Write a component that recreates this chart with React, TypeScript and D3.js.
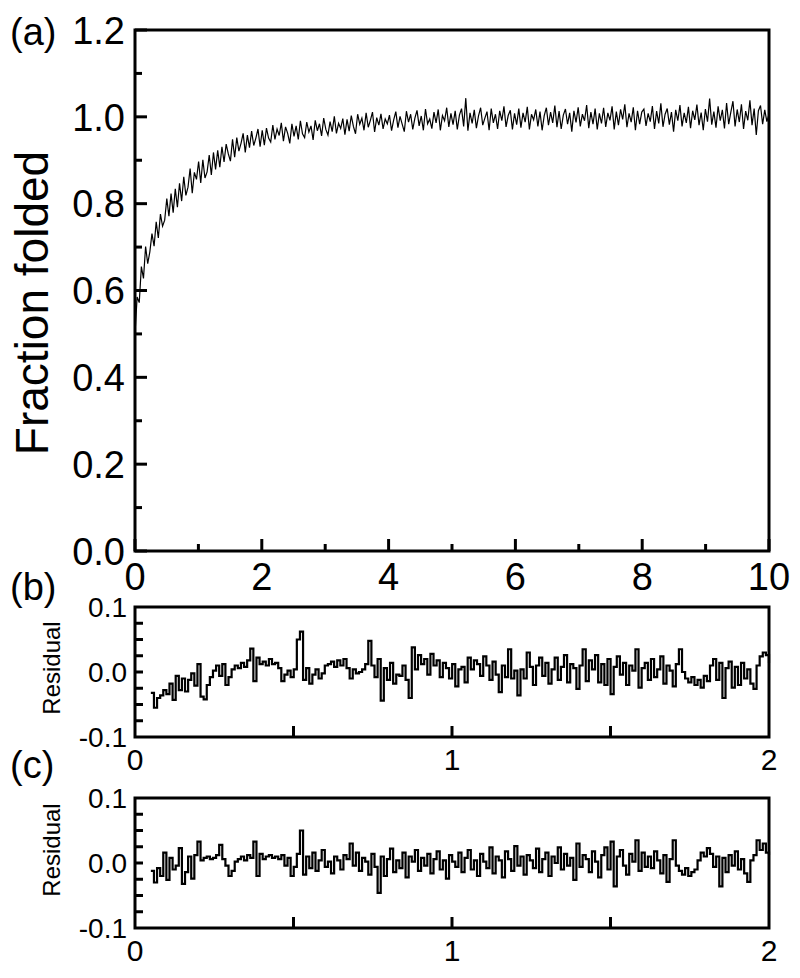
import React from 'react'
import * as d3 from 'd3'

// fraction folded trace, sampled evenly over 0..10
const foldedValues = [
  0.500,0.585,0.572,0.655,0.628,0.701,0.662,0.689,0.731,0.702,0.758,0.721,0.776,0.748,0.762,0.812,0.771,0.823,0.779,0.834,
  0.792,0.847,0.806,0.862,0.819,0.838,0.881,0.824,0.872,0.856,0.897,0.848,0.901,0.859,0.873,0.912,0.866,0.918,0.879,0.923,
  0.884,0.931,0.896,0.937,0.915,0.898,0.948,0.907,0.952,0.921,0.939,0.962,0.918,0.958,0.929,0.967,0.934,0.951,0.972,0.931,
  0.969,0.935,0.974,0.951,0.942,0.981,0.948,0.972,0.957,0.986,0.944,0.977,0.962,0.939,0.984,0.955,0.979,0.948,0.991,0.961,
  0.952,0.988,0.965,0.979,0.947,0.992,0.968,0.984,0.956,0.997,0.971,0.958,0.989,0.966,1.001,0.962,0.985,0.973,0.996,0.959,
  0.994,0.967,1.003,0.978,0.961,1.006,0.983,0.997,0.969,1.009,0.976,0.992,1.011,0.965,0.998,0.981,1.007,0.972,0.995,0.984,
  1.004,0.968,0.993,1.012,0.975,1.001,0.983,0.966,1.013,0.988,1.006,0.971,0.997,1.015,0.979,1.002,0.969,1.018,0.984,0.995,
  0.973,1.011,0.986,1.017,0.969,1.003,0.991,1.021,0.977,1.008,0.982,1.014,0.971,1.004,1.019,0.978,1.043,0.968,1.009,0.985,
  1.016,0.974,1.002,1.021,0.981,0.997,1.012,0.969,1.019,0.986,1.006,0.972,1.014,0.991,1.024,0.977,1.003,1.015,0.971,1.008,
  0.982,1.019,0.975,1.009,0.988,1.023,0.971,1.006,0.993,1.017,0.978,1.012,0.969,1.003,1.021,0.981,1.011,0.986,1.026,0.976,
  1.013,0.972,1.004,1.018,0.983,1.009,0.966,1.014,0.987,1.022,0.978,1.006,0.991,1.027,0.974,1.011,0.983,1.019,0.971,1.008,
  0.985,1.021,0.977,1.009,0.992,1.024,0.971,1.012,0.981,1.017,0.994,1.029,0.976,1.008,0.988,1.022,0.969,1.014,0.983,1.011,
  1.018,0.979,1.008,0.989,1.025,0.972,1.013,0.985,1.031,0.977,1.006,1.019,0.982,1.011,0.966,1.016,0.991,1.027,0.978,1.009,
  0.986,1.023,0.974,1.014,0.993,1.028,0.981,1.010,0.969,1.018,0.989,1.042,0.982,1.012,0.975,1.024,0.991,1.016,0.973,1.032,
  0.983,1.011,1.036,0.978,1.017,0.988,1.029,0.972,1.013,0.992,1.038,0.981,1.019,0.958,1.014,1.026,0.983,1.016,0.989,1.006,
]

// residuals, sampled evenly over 0.05..2
const residualB = [
  -0.032,-0.055,-0.040,-0.036,-0.028,-0.034,-0.018,-0.043,-0.006,-0.028,-0.010,-0.030,-0.012,-0.002,-0.021,0.012,-0.038,-0.042,-0.020,-0.008,
  0.002,0.010,-0.006,0.012,-0.020,-0.008,0.004,0.010,0.006,0.014,0.008,0.018,0.036,-0.014,0.022,0.012,0.016,0.010,0.020,0.012,
  0.014,0.006,-0.014,-0.004,0.002,-0.008,0.004,0.050,0.062,-0.012,0.006,-0.018,-0.004,0.004,-0.010,-0.002,0.010,0.012,0.016,0.008,
  0.018,0.010,0.020,0.006,-0.010,0.004,-0.002,0.000,0.004,0.012,0.048,0.010,-0.008,0.020,-0.044,0.006,-0.012,0.014,-0.018,-0.004,
  -0.006,0.010,-0.012,-0.040,0.038,0.004,0.026,0.012,0.020,-0.004,0.028,0.010,0.018,-0.008,0.014,0.006,-0.010,0.012,-0.022,0.004,
  0.008,-0.016,0.022,0.004,0.018,0.012,-0.006,0.024,0.010,-0.012,0.016,-0.004,-0.031,0.010,-0.008,0.035,-0.010,0.002,-0.036,0.004,
  -0.010,0.030,0.008,-0.020,0.010,0.022,-0.006,0.014,-0.018,0.004,0.022,-0.012,0.008,0.026,-0.016,0.012,0.006,-0.026,0.010,0.035,
  -0.014,0.018,0.004,0.026,-0.016,0.012,-0.020,0.020,-0.034,0.008,0.024,-0.004,0.014,-0.020,0.010,0.002,0.035,-0.024,0.006,0.014,
  -0.012,0.020,-0.008,0.004,0.024,-0.018,0.010,0.002,-0.022,0.012,0.035,0.000,-0.010,-0.016,-0.008,-0.020,-0.012,-0.024,-0.006,-0.014,
  0.010,0.020,-0.012,0.014,-0.040,0.006,0.016,-0.024,0.008,-0.020,0.014,-0.010,0.004,-0.018,-0.026,0.010,0.024,0.030,0.026,0.014,
]

const residualC = [
  -0.012,-0.030,-0.008,-0.020,0.016,-0.026,0.008,-0.010,-0.004,0.023,-0.032,-0.014,0.010,-0.024,0.012,0.033,0.004,0.008,0.010,0.006,
  0.008,0.012,0.028,0.006,-0.004,-0.020,-0.012,0.002,0.006,0.010,0.004,0.012,0.008,0.033,-0.020,0.014,0.006,0.010,0.012,0.008,
  0.010,0.006,0.012,-0.004,0.008,-0.020,-0.006,0.014,0.050,-0.018,0.010,-0.008,0.016,-0.012,0.004,0.020,-0.006,0.002,-0.016,0.010,
  0.004,-0.010,0.012,0.006,0.030,-0.004,0.016,-0.012,0.008,0.002,-0.018,0.014,-0.006,-0.046,0.010,-0.020,0.006,0.022,-0.014,0.004,
  -0.008,0.016,-0.022,0.010,0.002,0.020,-0.012,0.008,-0.004,0.014,-0.016,0.006,0.018,-0.010,0.004,-0.024,0.012,0.002,-0.006,0.016,
  -0.014,0.008,0.020,-0.010,0.004,-0.020,0.014,0.002,-0.008,0.024,-0.016,0.010,0.004,-0.022,0.018,0.006,-0.012,0.026,-0.004,0.010,
  -0.018,0.012,0.004,-0.008,0.022,-0.014,0.006,0.016,-0.020,0.010,0.000,0.024,-0.010,0.014,-0.004,0.008,-0.026,0.030,-0.006,0.012,
  0.006,-0.014,0.018,0.002,-0.022,0.012,0.024,-0.010,0.033,-0.036,0.010,0.020,-0.004,-0.018,0.014,0.002,0.035,-0.012,0.016,-0.006,
  0.010,-0.008,0.018,0.004,-0.016,0.012,-0.029,0.006,0.035,-0.004,-0.012,-0.018,-0.008,-0.020,-0.014,-0.010,0.004,0.016,0.010,0.023,
  0.014,-0.006,0.010,-0.036,0.008,-0.014,0.012,-0.004,0.018,-0.010,0.006,-0.016,-0.029,0.004,0.012,0.035,0.020,0.030,0.016,0.012,
]

const mainXMajor = [0, 2, 4, 6, 8, 10]
const mainXMinor = [1, 3, 5, 7, 9]
const mainYMajor = [0, 0.2, 0.4, 0.6, 0.8, 1.0, 1.2]
const mainYMinor = [0.1, 0.3, 0.5, 0.7, 0.9, 1.1]
const resXLabels = [0, 1, 2]
const resXTicks = [0.5, 1, 1.5]
const resYLabels = [0.1, 0.0, -0.1]
const resYTicks = [-0.075, -0.05, -0.025, 0, 0.025, 0.05, 0.075]

const font = "Arial, 'Liberation Sans', Helvetica, sans-serif"
const left = 135
const right = 769

const MainPanel = () => {
  const top = 30, bottom = 551
  const x = d3.scaleLinear().domain([0, 10]).range([left, right])
  const y = d3.scaleLinear().domain([0, 1.2]).range([bottom, top])
  const t = foldedValues.map((_, i) => i * 10 / (foldedValues.length - 1))
  const path = d3.line<number>()
    .x((_, i) => x(t[i]))
    .y(d => y(d))(foldedValues)

  return (
    <g>
      <path d={path || ''} fill="none" stroke="#000" strokeWidth={1.2} />
      <rect x={left} y={top} width={right - left} height={bottom - top}
        fill="none" stroke="#000" strokeWidth={3} />
      {mainXMajor.map(v => (
        <g key={'xm' + v}>
          <line x1={x(v)} x2={x(v)} y1={bottom} y2={bottom - 12} stroke="#000" strokeWidth={3} />
          <text x={x(v)} y={bottom + 39} textAnchor="middle" fontSize={38} fontFamily={font}>{v}</text>
        </g>
      ))}
      {mainXMinor.map(v => (
        <line key={'xn' + v} x1={x(v)} x2={x(v)} y1={bottom} y2={bottom - 7} stroke="#000" strokeWidth={3} />
      ))}
      {mainYMajor.map(v => (
        <g key={'ym' + v}>
          <line x1={left} x2={left + 12} y1={y(v)} y2={y(v)} stroke="#000" strokeWidth={3} />
          <text x={125} y={y(v)} dy="0.36em" textAnchor="end" fontSize={38} fontFamily={font}>{v.toFixed(1)}</text>
        </g>
      ))}
      {mainYMinor.map(v => (
        <line key={'yn' + v} x1={left} x2={left + 7} y1={y(v)} y2={y(v)} stroke="#000" strokeWidth={3} />
      ))}
      <text transform={`translate(48,303) rotate(-90)`} textAnchor="middle"
        fontSize={46} fontFamily={font}>Fraction folded</text>
      <text x={10} y={45} fontSize={38} fontFamily={font}>(a)</text>
    </g>
  )
}

const ResidualPanel = ({ values, top, label, labelY, titleY }:
  { values: number[], top: number, label: string, labelY: number, titleY: number }) => {
  const bottom = top + 130
  const x = d3.scaleLinear().domain([0, 2]).range([left, right])
  const y = d3.scaleLinear().domain([-0.1, 0.1]).range([bottom, top])
  const t = values.map((_, i) => 0.05 + i * 1.95 / (values.length - 1))
  const path = d3.line<number>()
    .x((_, i) => x(t[i]))
    .y(d => y(d))
    .curve(d3.curveStepAfter)(values)

  return (
    <g>
      <path d={path || ''} fill="none" stroke="#000" strokeWidth={2.2} />
      <rect x={left} y={top} width={right - left} height={bottom - top}
        fill="none" stroke="#000" strokeWidth={3} />
      {resXTicks.map(v => (
        <line key={'xt' + v} x1={x(v)} x2={x(v)} y1={bottom} y2={bottom - 11} stroke="#000" strokeWidth={3} />
      ))}
      {resXLabels.map(v => (
        <text key={'xl' + v} x={x(v)} y={bottom + 33} textAnchor="middle" fontSize={30} fontFamily={font}>{v}</text>
      ))}
      {resYTicks.map(v => (
        <line key={'yt' + v} x1={left} x2={left + 8} y1={y(v)} y2={y(v)} stroke="#000" strokeWidth={3} />
      ))}
      {resYLabels.map(v => (
        <text key={'yl' + v} x={127} y={y(v)} dy="0.36em" textAnchor="end" fontSize={28} fontFamily={font}>{v.toFixed(1)}</text>
      ))}
      <text transform={`translate(60,${titleY}) rotate(-90)`} textAnchor="middle"
        fontSize={24} fontFamily={font}>Residual</text>
      <text x={10} y={labelY} fontSize={38} fontFamily={font}>{label}</text>
    </g>
  )
}

export default function App() {
  return (
    <svg width={800} height={978} style={{ position: 'absolute', left: 0, top: 0, background: '#fff' }}>
      <rect width={800} height={978} fill="#fff" />
      <MainPanel />
      <ResidualPanel values={residualB} top={607} label="(b)" labelY={600} titleY={668} />
      <ResidualPanel values={residualC} top={798} label="(c)" labelY={778} titleY={850} />
    </svg>
  )
}
